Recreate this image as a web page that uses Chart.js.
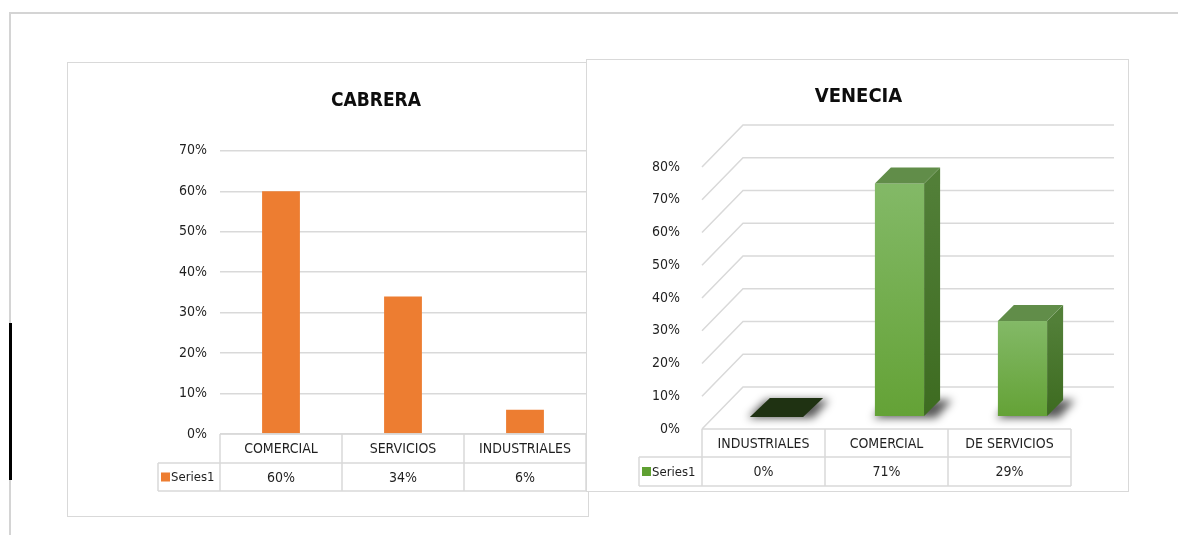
<!DOCTYPE html>
<html>
<head>
<meta charset="utf-8">
<script src="https://cdn.jsdelivr.net/npm/chart.js@4.4.0/dist/chart.umd.min.js"></script>
<style>
  body { margin: 0; background: #fff; width: 1178px; height: 535px; overflow: hidden; position: relative; }
  #frameTop { position: absolute; left: 9px; top: 12px; width: 1169px; height: 2px; background: #d4d4d4; }
  #frameLeft { position: absolute; left: 9px; top: 12px; width: 2px; height: 523px; background: #d4d4d4; }
  #mark { position: absolute; left: 9px; top: 323px; width: 3px; height: 157px; background: #000; }
  .box { position: absolute; background: #fff; border: 1px solid #d9d9d9; box-sizing: border-box; }
  .box canvas { position: absolute; left: -1px; top: -1px; }
  #boxA { left: 67px; top: 62px; width: 522px; height: 455px; }
  #boxB { left: 586px; top: 59px; width: 543px; height: 433px; }
</style>
</head>
<body>
<div id="frameTop"></div>
<div id="frameLeft"></div>
<div id="mark"></div>
<div class="box" id="boxA"><canvas id="cabreraChart" width="522" height="455"></canvas></div>
<div class="box" id="boxB"><canvas id="veneciaChart" width="543" height="433"></canvas></div>

<script>
// data
var cabreraLabels = ['COMERCIAL', 'SERVICIOS', 'INDUSTRIALES'];
var cabreraValues = [0.60, 0.34, 0.06];
var veneciaLabels = ['INDUSTRIALES', 'COMERCIAL', 'DE SERVICIOS'];
var veneciaValues = [0.00, 0.71, 0.29];
var seriesName = 'Series1';

var FONT = "'Liberation Sans Narrow', 'DejaVu Sans Condensed', sans-serif";
var TEXT = '#1f1f1f';
var LINE = '#d9d9d9';

function pct(v) { return Math.round(v * 100) + '%'; }

// Excel-like data table drawn under the category axis
var dataTable = {
    id: 'dataTable',
    afterDraw: function(chart, args, o) {
        var ctx = chart.ctx, a = chart.chartArea, x = chart.scales.x;
        var n = chart.data.labels.length, cw = (a.right - a.left) / n;
        var ds = chart.data.datasets[0];
        var y0 = a.bottom, y1 = y0 + o.rowH[0], y2 = y1 + o.rowH[1];
        var lx = a.left - o.legendW;
        ctx.save();
        ctx.strokeStyle = LINE;
        ctx.lineWidth = 1.5;
        ctx.beginPath();
        ctx.moveTo(a.left, y0); ctx.lineTo(a.right, y0);
        ctx.moveTo(lx, y1); ctx.lineTo(a.right, y1);
        ctx.moveTo(lx, y2); ctx.lineTo(a.right, y2);
        ctx.moveTo(lx, y1); ctx.lineTo(lx, y2);
        for (var i = 0; i <= n; i++) {
            var xx = a.left + i * cw;
            ctx.moveTo(xx, y0); ctx.lineTo(xx, y2);
        }
        ctx.stroke();
        ctx.fillStyle = TEXT;
        ctx.font = '14px ' + FONT;
        ctx.textAlign = 'center';
        ctx.textBaseline = 'middle';
        chart.data.labels.forEach(function(l, i) {
            var cx = x.getPixelForValue(i);
            ctx.fillText(l, cx, (y0 + y1) / 2 + 1);
            ctx.fillText(pct(ds.data[i]), cx, (y1 + y2) / 2 + 1);
        });
        ctx.fillStyle = o.swatch;
        ctx.fillRect(lx + 3, (y1 + y2) / 2 - 4.5, 9, 9);
        ctx.fillStyle = TEXT;
        ctx.textAlign = 'left';
        ctx.font = '13px ' + FONT;
        ctx.fillText(ds.label, lx + 13, (y1 + y2) / 2 + 1);
        ctx.restore();
    }
};

// 3D walls and boxes for the second chart
var depthX = 41, depthY = -42, barOff = 13, barDepth = 16;

var walls3d = {
    id: 'walls3d',
    beforeDatasetsDraw: function(chart) {
        var ctx = chart.ctx, a = chart.chartArea, y = chart.scales.y;
        ctx.save();
        ctx.strokeStyle = LINE;
        ctx.lineWidth = 1.5;
        ctx.beginPath();
        y.ticks.forEach(function(t) {
            var yf = y.getPixelForValue(t.value);
            ctx.moveTo(a.left, yf);
            ctx.lineTo(a.left + depthX, yf + depthY);
            ctx.lineTo(a.right + depthX + 2, yf + depthY);
        });
        ctx.stroke();
        ctx.restore();
    },
    afterDatasetsDraw: function(chart) {
        var ctx = chart.ctx;
        var meta = chart.getDatasetMeta(0);
        meta.data.forEach(function(el) {
            var w = el.width;
            var x0 = el.x + barOff - w / 2, x1 = x0 + w;
            var yT = el.y - barOff, yB = el.base - barOff, d = barDepth;
            var flat = yB - yT < 1;
            ctx.save();
            // soft shadow on the floor
            ctx.filter = 'blur(4px)';
            ctx.fillStyle = 'rgba(0,0,0,0.65)';
            ctx.beginPath();
            ctx.moveTo(x0 - (flat ? 4 : 2), yB + 2);
            ctx.lineTo(x1 + 12, yB + 2);
            ctx.lineTo(x1 + d + 12, yB - d);
            ctx.lineTo(x0 + d - 2, yB - d);
            ctx.closePath();
            ctx.fill();
            ctx.filter = 'none';
            if (flat) {
                ctx.fillStyle = '#1f3212';
                ctx.beginPath();
                ctx.moveTo(x0 - 2, yB + 1); ctx.lineTo(x1 + 2, yB + 1);
                ctx.lineTo(x1 + d + 6, yB - d - 2); ctx.lineTo(x0 + d + 2, yB - d - 2);
                ctx.closePath();
                ctx.fill();
                ctx.restore();
                return;
            }
            // front
            var g = ctx.createLinearGradient(0, yT, 0, yB);
            g.addColorStop(0, '#83b967');
            g.addColorStop(1, '#64a236');
            ctx.fillStyle = g;
            ctx.fillRect(x0, yT, w, yB - yT);
            // side
            var gs = ctx.createLinearGradient(0, yT, 0, yB);
            gs.addColorStop(0, '#527f38');
            gs.addColorStop(1, '#3d6b20');
            ctx.fillStyle = gs;
            ctx.beginPath();
            ctx.moveTo(x1, yT); ctx.lineTo(x1 + d, yT - d);
            ctx.lineTo(x1 + d, yB - d); ctx.lineTo(x1, yB);
            ctx.closePath();
            ctx.fill();
            // top
            ctx.fillStyle = '#618d49';
            ctx.beginPath();
            ctx.moveTo(x0, yT); ctx.lineTo(x0 + d, yT - d);
            ctx.lineTo(x1 + d, yT - d); ctx.lineTo(x1, yT);
            ctx.closePath();
            ctx.fill();
            ctx.restore();
        });
    }
};

document.addEventListener('DOMContentLoaded', function() {
    new Chart(document.getElementById('cabreraChart').getContext('2d'), {
        type: 'bar',
        data: {
            labels: cabreraLabels,
            datasets: [{
                label: seriesName,
                data: cabreraValues,
                backgroundColor: '#ED7D31',
                categoryPercentage: 1,
                barPercentage: 0.31
            }]
        },
        options: {
            responsive: false,
            animation: false,
            devicePixelRatio: 1,
            layout: { padding: { top: 0, right: 3, bottom: 83, left: 99 } },
            plugins: {
                legend: { display: false },
                tooltip: { enabled: false },
                title: {
                    display: true,
                    text: 'CABRERA',
                    color: '#0d0d0d',
                    font: { family: FONT, size: 19, weight: 'bold' },
                    padding: { top: 28, bottom: 38 }
                },
                dataTable: { rowH: [29, 28], legendW: 62, swatch: '#ED7D31' }
            },
            scales: {
                x: { display: false },
                y: {
                    min: 0, max: 0.7,
                    afterFit: function(s) { s.width = 54; },
                    ticks: { stepSize: 0.1, padding: 13, color: TEXT, font: { family: FONT, size: 14 }, callback: pct },
                    grid: { color: LINE, lineWidth: 1.5, drawTicks: false },
                    border: { display: false }
                }
            }
        },
        plugins: [dataTable]
    });

    new Chart(document.getElementById('veneciaChart').getContext('2d'), {
        type: 'bar',
        data: {
            labels: veneciaLabels,
            datasets: [{
                label: seriesName,
                data: veneciaValues,
                backgroundColor: 'rgba(0,0,0,0)',
                categoryPercentage: 1,
                barPercentage: 0.4
            }]
        },
        options: {
            responsive: false,
            animation: false,
            devicePixelRatio: 1,
            layout: { padding: { top: 0, right: 58, bottom: 63, left: 60 } },
            plugins: {
                legend: { display: false },
                tooltip: { enabled: false },
                title: {
                    display: true,
                    text: 'VENECIA',
                    color: '#0d0d0d',
                    font: { family: FONT, size: 20, weight: 'bold' },
                    padding: { top: 26, bottom: 58 }
                },
                dataTable: { rowH: [28, 29], legendW: 63, swatch: '#5fa032' }
            },
            scales: {
                x: { display: false },
                y: {
                    min: 0, max: 0.8,
                    afterFit: function(s) { s.width = 56; },
                    ticks: { stepSize: 0.1, padding: 14, color: TEXT, font: { family: FONT, size: 14 }, callback: pct },
                    grid: { display: false },
                    border: { display: false }
                }
            }
        },
        plugins: [walls3d, dataTable]
    });
});
</script>
</body>
</html>
